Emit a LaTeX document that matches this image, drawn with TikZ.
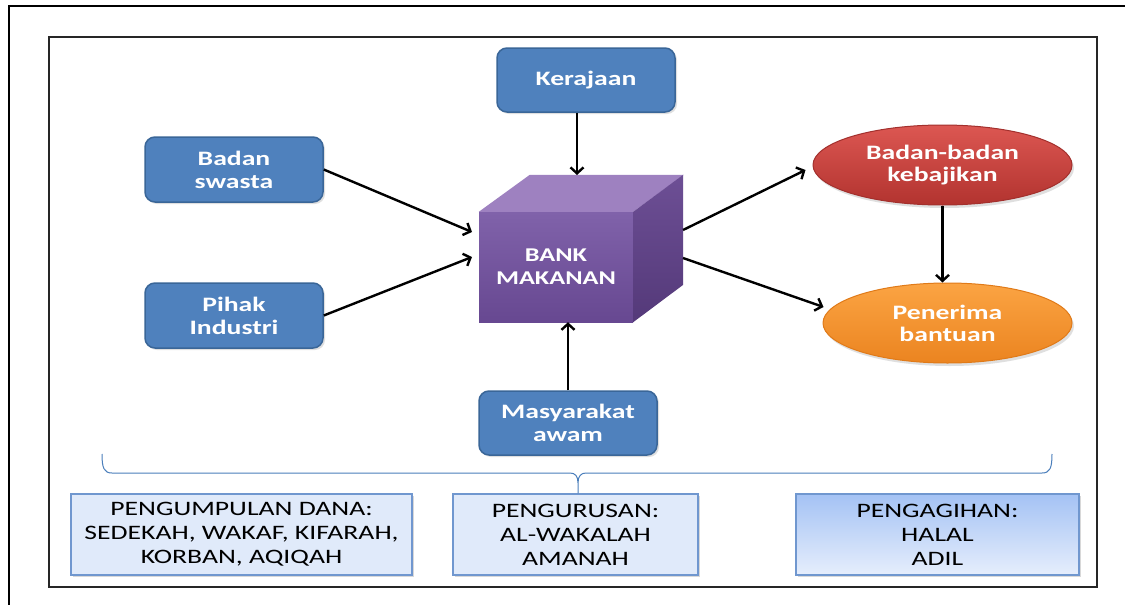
\documentclass[tikz,border=0pt]{standalone}
\usepackage{fontspec}
\setmainfont{Carlito}[FakeStretch=1.35]
\usetikzlibrary{arrows.meta,shapes.geometric,shadows,calc}
\definecolor{bluefill}{HTML}{4F81BD}
\definecolor{blueborder}{HTML}{3A6698}
\definecolor{lightfill}{HTML}{E0EAFA}
\definecolor{lightborder}{HTML}{7097CF}
\definecolor{deepfill}{HTML}{A4C2F4}
\definecolor{palefill}{HTML}{E6EEFC}
\definecolor{cubefrontA}{HTML}{8062AA}
\definecolor{cubefrontB}{HTML}{674891}
\definecolor{cubetop}{HTML}{9E81C0}
\definecolor{cubesideA}{HTML}{6D4F95}
\definecolor{cubesideB}{HTML}{543979}
\definecolor{redA}{HTML}{DC5752}
\definecolor{redB}{HTML}{B2332F}
\definecolor{redborder}{HTML}{A3302D}
\definecolor{orA}{HTML}{FBA443}
\definecolor{orB}{HTML}{EB8420}
\definecolor{orborder}{HTML}{E07A18}
\definecolor{bracecol}{HTML}{4A7EBB}
\tikzset{
  bbox/.style={draw=blueborder, line width=1.5pt, fill=bluefill, rounded corners=10pt,
    minimum width=178pt, minimum height=64pt, inner sep=0pt, text=white, align=center,
    font=\bfseries\fontsize{20.5}{23}\selectfont,
    drop shadow={opacity=0.25, shadow xshift=2pt, shadow yshift=-2pt}},
  ovalnode/.style={ellipse, line width=1pt, inner sep=0pt, text=white, align=center,
    font=\bfseries\fontsize{20.5}{22}\selectfont,
    drop shadow={opacity=0.25, shadow xshift=2pt, shadow yshift=-3pt}},
  infobox/.style={draw=lightborder, line width=1.2pt, inner sep=0pt, align=center,
    font=\fontsize{20.5}{24}\selectfont, text=black,
    drop shadow={opacity=0.3, shadow xshift=2pt, shadow yshift=-2pt}},
  arr/.style={line width=2.4pt, -{Straight Barb[length=6pt,width=13pt]}},
  bracepath/.style={draw=bracecol, line width=1pt},
}
\begin{document}
\begin{tikzpicture}[x=1pt,y=-1pt]
\useasboundingbox (0,0) rectangle (1125,605);
% frames
\draw[line width=2.5pt] (9,605) -- (9,6) -- (1125,6);
\draw[line width=1.4pt, black!85, drop shadow={opacity=0.3, shadow xshift=-1.5pt, shadow yshift=1.5pt}, fill=white] (49,37) rectangle (1097,587);

% cube
\node[minimum width=154pt, minimum height=110pt, inner sep=0pt, top color=cubefrontA, bottom color=cubefrontB,
  text=white, align=center, font=\bfseries\fontsize{19.5}{23}\selectfont] (bank) at (556,267) {BANK\\MAKANAN};
\fill[cubetop] (bank.north west) -- ++(51,-37) -- ++(154,0) -- (bank.north east) -- cycle;
\shade[top color=cubesideA, bottom color=cubesideB] (bank.north east) -- ++(50,-37) -- ++(0,110) -- (bank.south east) -- cycle;

% blue boxes
\node[bbox] (ker) at (586,80) {Kerajaan};
\node[bbox, minimum height=65pt] (bs) at (234,169.5) {Badan\\swasta};
\node[bbox, minimum height=65pt] (pi) at (234,315.5) {Pihak\\Industri};
\node[bbox] (ma) at (568,423) {Masyarakat\\awam};

% ellipses
\node[ovalnode, draw=redborder, top color=redA, bottom color=redB, minimum width=259pt, minimum height=80pt] (bk) at (942.5,165) {Badan-badan\\kebajikan};
\node[ovalnode, draw=orborder, top color=orA, bottom color=orB, minimum width=249pt, minimum height=80pt] (pb) at (947.5,323) {Penerima\\bantuan};

% connection points on the cube
\coordinate (cTop) at (577,175);
\coordinate (cL1) at (472,232);
\coordinate (cL2) at (472,257);
\coordinate (cR1) at (683,230);
\coordinate (cR2) at (683,258);

% arrows
\draw[arr] (ker.south -| cTop) -- (cTop);
\draw[arr] (bs.east) -- (cL1);
\draw[arr] (pi.east) -- (cL2);
\draw[arr] (ma.north) -- (ma.north |- bank.south);
\draw[arr] (cR1) -- ($(bk.west)+(-7,5)$);
\draw[arr] (cR2) -- ($(pb.west)+(1,-16)$);
\draw[arr] (bk.south) -- (bk.south |- pb.north);

% bottom boxes
\node[infobox, fill=lightfill, minimum width=341pt, minimum height=81pt] (box1) at (241.5,534.5)
  {PENGUMPULAN DANA:\\SEDEKAH, WAKAF, KIFARAH,\\KORBAN, AQIQAH};
\node[infobox, fill=lightfill, minimum width=245pt, minimum height=81pt] (box2) at (575.5,534.5)
  {PENGURUSAN:\\AL-WAKALAH\\AMANAH};
\node[infobox, top color=deepfill, middle color=deepfill, bottom color=palefill, minimum width=283pt, minimum height=81pt] (box3) at (937.5,534.5)
  {PENGAGIHAN:\\HALAL\\ADIL};

% brace
\draw[bracepath] (102,454) .. controls (102,468) and (104,473) .. (112,473) -- (570,473)
  .. controls (575,473) and (578,476) .. (578,483) -- (box2.north -| 578,0)
  (578,483) .. controls (578,476) and (581,473) .. (586,473) -- (1042,473)
  .. controls (1050,473) and (1052,468) .. (1052,454);
\end{tikzpicture}
\end{document}
